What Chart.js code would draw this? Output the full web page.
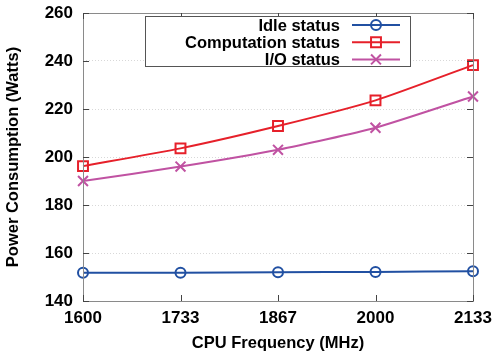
<!DOCTYPE html>
<html>
<head>
<meta charset="utf-8">
<script src="https://cdn.jsdelivr.net/npm/chart.js@4.4.1/dist/chart.umd.min.js"></script>
<style>
  html, body { margin: 0; padding: 0; background: #fff; }
  #wrap { width: 492px; height: 354px; }
</style>
</head>
<body>
<div id="wrap"><canvas id="grafico" width="492" height="354"></canvas></div>
<script>
"use strict"

// dati
const frequenze = ["1600", "1733", "1867", "2000", "2133"];
const idle = [151.8, 151.8, 152.0, 152.1, 152.4];
const calcolo = [196.2, 203.6, 212.9, 223.6, 238.3];
const io = [190.0, 196.0, 203.0, 212.2, 225.2];
const tickY = [140, 160, 180, 200, 220, 240, 260];

const font = "'Liberation Sans', Arial, sans-serif";

// cornice, tacche e legenda in stile gnuplot
const cornice = {
    id: "cornice",
    afterDatasetsDraw(chart) {
        const ctx = chart.ctx;
        const a = chart.chartArea;
        const sx = chart.scales.x;
        const sy = chart.scales.y;
        ctx.save();
        ctx.strokeStyle = "#8a8a8a";
        ctx.lineWidth = 1;
        ctx.strokeRect(a.left + 0.5, a.top + 0.5, a.right - a.left, a.bottom - a.top);
        ctx.strokeStyle = "#444";
        ctx.beginPath();
        tickY.forEach(function (v) {
            const y = Math.round(sy.getPixelForValue(v)) + 0.5;
            ctx.moveTo(a.left, y); ctx.lineTo(a.left + 6, y);
            ctx.moveTo(a.right, y); ctx.lineTo(a.right - 6, y);
        });
        frequenze.forEach(function (f, i) {
            const x = Math.round(sx.getPixelForValue(i)) + 0.5;
            ctx.moveTo(x, a.bottom); ctx.lineTo(x, a.bottom - 6);
            ctx.moveTo(x, a.top); ctx.lineTo(x, a.top + 6);
        });
        ctx.stroke();

        // legenda
        ctx.fillStyle = "#fff";
        ctx.fillRect(145, 16, 266, 51);
        ctx.strokeStyle = "#555";
        ctx.strokeRect(145.5, 16.5, 265, 50);
        ctx.font = "bold 16.5px " + font;
        ctx.textAlign = "right";
        ctx.textBaseline = "middle";
        chart.data.datasets.forEach(function (ds, i) {
            const y = 25 + i * 17.2;
            ctx.fillStyle = "#000";
            ctx.fillText(ds.label, 340, y + 1);
            ctx.strokeStyle = ds.borderColor;
            ctx.fillStyle = "rgba(0,0,0,0)";
            ctx.lineWidth = 2;
            ctx.beginPath();
            ctx.moveTo(352, y); ctx.lineTo(400, y);
            ctx.stroke();
            Chart.helpers.drawPoint(ctx, {
                pointStyle: ds.pointStyle,
                radius: ds.pointRadius,
                borderWidth: 2
            }, 376, y);
        });
        ctx.restore();
    }
};

function serie(label, dati, colore, stile) {
    return {
        label: label,
        data: dati,
        borderColor: colore,
        backgroundColor: "rgba(0,0,0,0)",
        borderWidth: 2,
        pointStyle: stile,
        pointRadius: stile === "circle" ? 5 : 7,
        pointBorderWidth: 2,
        pointBackgroundColor: "rgba(0,0,0,0)",
        tension: 0.2,
        clip: false
    };
}

new Chart(document.getElementById("grafico"), {
    type: "line",
    data: {
        labels: frequenze,
        datasets: [
            serie("Idle status", idle, "#2150a2", "circle"),
            serie("Computation status", calcolo, "#e6202a", "rect"),
            serie("I/O status", io, "#c052a2", "crossRot")
        ]
    },
    options: {
        responsive: false,
        animation: false,
        layout: { padding: { top: 13, right: 19, left: 0, bottom: 0 } },
        plugins: {
            legend: { display: false },
            tooltip: { enabled: false }
        },
        scales: {
            x: {
                offset: false,
                grid: { display: false, drawTicks: false },
                border: { display: false },
                ticks: { color: "#000", font: { family: font, size: 17, weight: "bold" }, padding: 7, maxRotation: 0 },
                title: { display: true, text: "CPU Frequency (MHz)", color: "#000", font: { family: font, size: 16.5, weight: "bold" }, padding: { top: 2, bottom: 1 } },
                afterFit: function (s) { s.height = 53; s.paddingLeft = 0; s.paddingRight = 0; }
            },
            y: {
                min: 140,
                max: 260,
                afterBuildTicks: function (s) { s.ticks = tickY.map(function (v) { return { value: v }; }); },
                grid: {
                    drawTicks: false,
                    color: function (c) { return (c.tick.value === 140 || c.tick.value === 260) ? "rgba(0,0,0,0)" : "#d8d8d8"; }
                },
                border: { display: false, dash: [1, 2] },
                ticks: { color: "#000", font: { family: font, size: 17, weight: "bold" }, padding: 10 },
                title: { display: true, text: "Power Consumption (Watts)", color: "#000", font: { family: font, size: 16.5, weight: "bold" }, padding: { bottom: 0, top: 4 } },
                afterFit: function (s) { s.width = 83; s.paddingTop = 0; s.paddingBottom = 0; }
            }
        }
    },
    plugins: [cornice]
});
</script>
</body>
</html>
